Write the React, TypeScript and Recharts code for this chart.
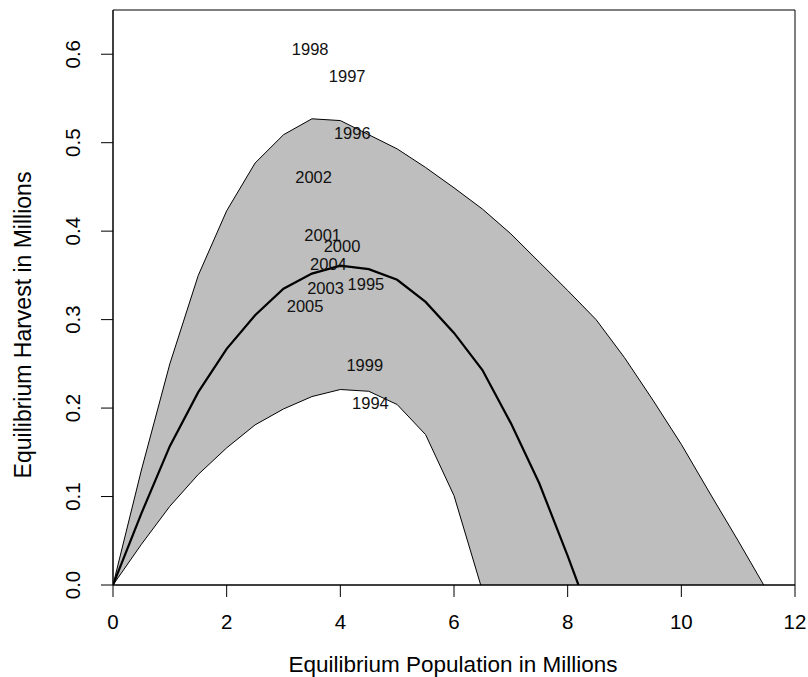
import React from 'react';
import {
  ComposedChart,
  Area,
  Line,
  Scatter,
  XAxis,
  YAxis,
  ReferenceLine,
} from 'recharts';

// ---- Data ----
const upperX = [0, 0.5, 1, 1.5, 2, 2.5, 3, 3.5, 4, 4.5, 5, 5.5, 6, 6.5, 7, 7.5, 8, 8.5, 9, 9.5, 10, 10.5, 11, 11.45];
const upperY = [0, 0.13, 0.25, 0.35, 0.423, 0.477, 0.509, 0.527, 0.525, 0.509, 0.493, 0.472, 0.449, 0.425, 0.397, 0.365, 0.333, 0.3, 0.257, 0.209, 0.159, 0.104, 0.05, 0];

const midX = [0, 0.5, 1, 1.5, 2, 2.5, 3, 3.5, 4, 4.5, 5, 5.5, 6, 6.5, 7, 7.5, 8, 8.19];
const midY = [0, 0.081, 0.157, 0.218, 0.267, 0.305, 0.335, 0.352, 0.361, 0.357, 0.345, 0.32, 0.285, 0.243, 0.183, 0.115, 0.033, 0];

const lowerX = [0, 0.5, 1, 1.5, 2, 2.5, 3, 3.5, 4, 4.5, 5, 5.5, 6, 6.47];
const lowerY = [0, 0.046, 0.089, 0.125, 0.155, 0.181, 0.199, 0.213, 0.221, 0.219, 0.204, 0.17, 0.101, 0];

const yearLabels = ['1998', '1997', '1996', '2002', '2001', '2000', '2004', '2003', '1995', '2005', '1999', '1994'];
const yearX = [3.47, 4.12, 4.21, 3.53, 3.69, 4.03, 3.79, 3.74, 4.45, 3.38, 4.43, 4.53];
const yearY = [0.606, 0.575, 0.511, 0.461, 0.396, 0.383, 0.363, 0.336, 0.34, 0.315, 0.249, 0.206];

const xTicks = [0, 2, 4, 6, 8, 10, 12];
const yTicks = [0, 0.1, 0.2, 0.3, 0.4, 0.5, 0.6];

const xTitle = 'Equilibrium Population in Millions';
const yTitle = 'Equilibrium Harvest in Millions';

// ---- Build table ----
const allX = Array.from(new Set([...upperX, ...midX, ...lowerX])).sort((a, b) => a - b);
const lookup = (xs: number[], ys: number[], x: number) => {
  const i = xs.indexOf(x);
  return i >= 0 ? ys[i] : null;
};
const table = allX.map((x) => ({
  x,
  upper: lookup(upperX, upperY, x),
  mid: lookup(midX, midY, x),
  lower: lookup(lowerX, lowerY, x),
}));

const yearData = yearLabels.map((label, i) => ({ x: yearX[i], y: yearY[i], label }));

const FONT = '"Liberation Sans", Arial, Helvetica, sans-serif';

const YTick = (props: any) => {
  const { x, y, payload } = props;
  return (
    <text
      x={x}
      y={y}
      transform={`rotate(-90 ${x} ${y})`}
      textAnchor="middle"
      fontSize={20.5}
      fontFamily={FONT}
      fill="#000"
    >
      {Number(payload.value).toFixed(1)}
    </text>
  );
};

const XTick = (props: any) => {
  const { x, y, payload } = props;
  return (
    <text x={x} y={y + 14.6} textAnchor="middle" fontSize={20.5} fontFamily={FONT} fill="#000">
      {payload.value}
    </text>
  );
};

const YearShape = (props: any) => {
  const { cx, cy, payload } = props;
  return (
    <text x={cx} y={cy + 6} textAnchor="middle" fontSize={16.5} fontFamily={FONT} fill="#111">
      {payload.label}
    </text>
  );
};

const XTitle = (props: any) => {
  const vb = props.viewBox || { x: 113, y: 585, width: 682 };
  return (
    <text
      x={vb.x + vb.width / 2 - 1}
      y={vb.y + 87}
      textAnchor="middle"
      fontSize={22.5}
      fontFamily={FONT}
      fill="#000"
    >
      {xTitle}
    </text>
  );
};

const YTitle = () => {
  const x = 31;
  const y = 325;
  return (
    <text
      x={x}
      y={y}
      transform={`rotate(-90 ${x} ${y})`}
      textAnchor="middle"
      fontSize={23}
      fontFamily={FONT}
      fill="#000"
    >
      {yTitle}
    </text>
  );
};

export default function App() {
  return (
    <div style={{ position: 'absolute', left: 0, top: 0, width: 808, height: 677, background: '#fff' }}>
      <ComposedChart
        width={808}
        height={677}
        data={table}
        margin={{ top: 10, right: 13, bottom: 0, left: 0 }}
      >
        <Area
          type="linear"
          dataKey="upper"
          stroke="#000"
          strokeWidth={1}
          fill="#BEBEBE"
          fillOpacity={1}
          connectNulls
          dot={false}
          activeDot={false}
          isAnimationActive={false}
        />
        <Area
          type="linear"
          dataKey="lower"
          stroke="#000"
          strokeWidth={1}
          fill="#FFFFFF"
          fillOpacity={1}
          connectNulls={false}
          dot={false}
          activeDot={false}
          isAnimationActive={false}
        />
        <Scatter data={yearData} dataKey="y" shape={<YearShape />} isAnimationActive={false} />
        <Line
          type="linear"
          dataKey="mid"
          stroke="#000"
          strokeWidth={2.2}
          dot={false}
          activeDot={false}
          connectNulls
          isAnimationActive={false}
        />
        <XAxis
          dataKey="x"
          type="number"
          domain={[0, 12]}
          ticks={xTicks}
          allowDataOverflow
          height={92}
          tickSize={12}
          tickMargin={17}
          tick={<XTick />}
          axisLine={{ stroke: '#000' }}
          tickLine={{ stroke: '#000' }}
          label={<XTitle />}
        />
        <YAxis
          type="number"
          domain={[0, 0.65]}
          ticks={yTicks}
          allowDataOverflow
          width={113}
          tickSize={12}
          tickMargin={21}
          tick={<YTick />}
          axisLine={{ stroke: '#000' }}
          tickLine={{ stroke: '#000' }}
          label={<YTitle />}
        />
        <ReferenceLine y={0.65} stroke="#000" strokeWidth={1} />
        <ReferenceLine x={12} stroke="#000" strokeWidth={1} />
        <ReferenceLine y={0} stroke="#000" strokeWidth={1} />
        <ReferenceLine x={0} stroke="#000" strokeWidth={1} />
      </ComposedChart>
    </div>
  );
}
